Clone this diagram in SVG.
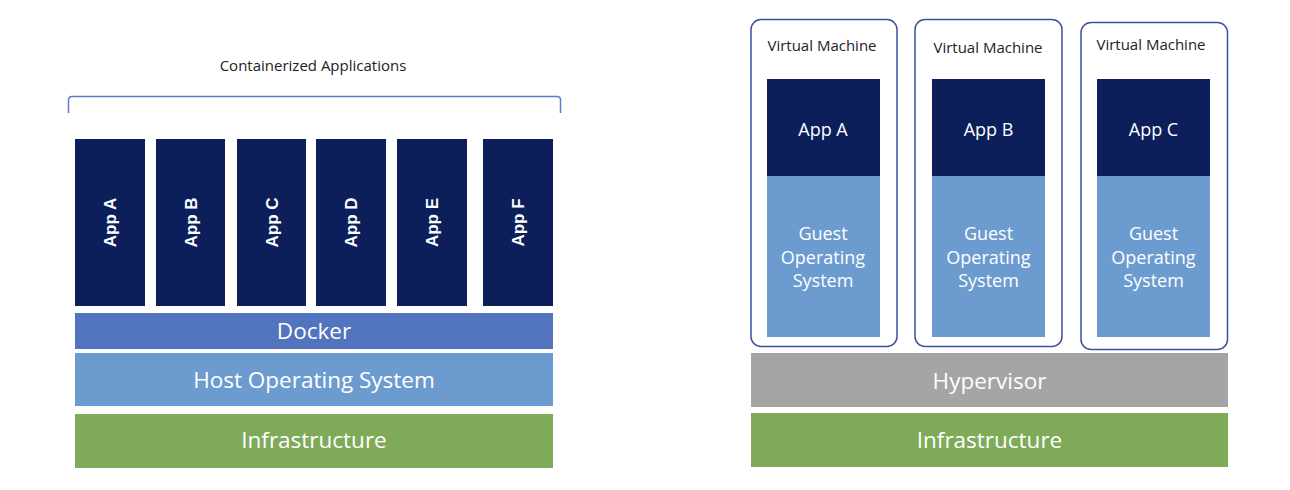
<svg xmlns="http://www.w3.org/2000/svg" width="1290" height="490" viewBox="0 0 1290 490">
<style>
.navy{fill:#0C1F5A}
.guest{fill:#6C9BD0}
.vm{fill:#FFFFFF;stroke:#3E50A0;stroke-width:1.5}
.lbl{font-family:"Open Sans","Liberation Sans",sans-serif;fill:#222222;text-anchor:middle;font-size:15px}
.wt{font-family:"Open Sans","Liberation Sans",sans-serif;fill:#FFFFFF;text-anchor:middle}
.big{font-size:22.5px}
.mid{font-size:18px}
.vt{font-family:"Liberation Sans",Arial,sans-serif;font-weight:bold;font-size:17px;fill:#FFFFFF;text-anchor:middle}
</style>
<rect width="1290" height="490" fill="#FFFFFF"/>

<g id="containers">
  <text class="lbl" x="313" y="71">Containerized Applications</text>
  <path d="M68.5,113 V100 Q68.5,96.5 72,96.5 H557 Q560.5,96.5 560.5,100 V113" fill="none" stroke="#5B7EC2" stroke-width="1.5"/>
</g>

<g id="app-a-c"><rect class="navy" x="75" y="139" width="70" height="167"/><text class="vt" transform="translate(110,222.5) rotate(-90)" y="6">App A</text></g>
<g id="app-b-c"><rect class="navy" x="156" y="139" width="69" height="167"/><text class="vt" transform="translate(190.5,222.5) rotate(-90)" y="6">App B</text></g>
<g id="app-c-c"><rect class="navy" x="237" y="139" width="69" height="167"/><text class="vt" transform="translate(271.5,222.5) rotate(-90)" y="6">App C</text></g>
<g id="app-d-c"><rect class="navy" x="316" y="139" width="70" height="167"/><text class="vt" transform="translate(351,222.5) rotate(-90)" y="6">App D</text></g>
<g id="app-e-c"><rect class="navy" x="397" y="139" width="70" height="167"/><text class="vt" transform="translate(432,222.5) rotate(-90)" y="6">App E</text></g>
<g id="app-f-c"><rect class="navy" x="483" y="139" width="70" height="167"/><text class="vt" transform="translate(518,222.5) rotate(-90)" y="6">App F</text></g>

<g id="docker"><rect x="75" y="313" width="478" height="36" fill="#5273BD"/><text class="wt big" x="314" y="339">Docker</text></g>
<g id="host-os"><rect x="75" y="353" width="478" height="53" fill="#6C9BD0"/><text class="wt big" x="314" y="388">Host Operating System</text></g>
<g id="infra-left"><rect x="75" y="414" width="478" height="54" fill="#7FAA58"/><text class="wt big" x="314" y="448">Infrastructure</text></g>

<g id="vm1">
  <rect class="vm" x="751" y="19.5" width="146" height="327" rx="10"/>
  <text class="lbl" x="822" y="51">Virtual Machine</text>
  <rect class="navy" x="767" y="79" width="113" height="97"/>
  <text class="wt mid" x="823" y="136">App A</text>
  <rect class="guest" x="767" y="176" width="113" height="161"/>
  <text class="wt mid"><tspan x="823" y="240">Guest</tspan><tspan x="823" y="264">Operating</tspan><tspan x="823" y="287">System</tspan></text>
</g>
<g id="vm2">
  <rect class="vm" x="915" y="19.5" width="147" height="327" rx="10"/>
  <text class="lbl" x="988" y="53">Virtual Machine</text>
  <rect class="navy" x="932" y="79" width="113" height="97"/>
  <text class="wt mid" x="988.5" y="136">App B</text>
  <rect class="guest" x="932" y="176" width="113" height="161"/>
  <text class="wt mid"><tspan x="988.5" y="240">Guest</tspan><tspan x="988.5" y="264">Operating</tspan><tspan x="988.5" y="287">System</tspan></text>
</g>
<g id="vm3">
  <rect class="vm" x="1081" y="22.5" width="146.5" height="327" rx="10"/>
  <text class="lbl" x="1151" y="50">Virtual Machine</text>
  <rect class="navy" x="1097" y="79" width="113" height="97"/>
  <text class="wt mid" x="1153.5" y="136">App C</text>
  <rect class="guest" x="1097" y="176" width="113" height="161"/>
  <text class="wt mid"><tspan x="1153.5" y="240">Guest</tspan><tspan x="1153.5" y="264">Operating</tspan><tspan x="1153.5" y="287">System</tspan></text>
</g>

<g id="hypervisor"><rect x="751" y="353" width="477" height="54" fill="#A5A5A5"/><text class="wt big" x="989.5" y="389">Hypervisor</text></g>
<g id="infra-right"><rect x="751" y="413" width="477" height="54" fill="#7FAA58"/><text class="wt big" x="989.5" y="448">Infrastructure</text></g>

<g id="connectors"></g>
</svg>
